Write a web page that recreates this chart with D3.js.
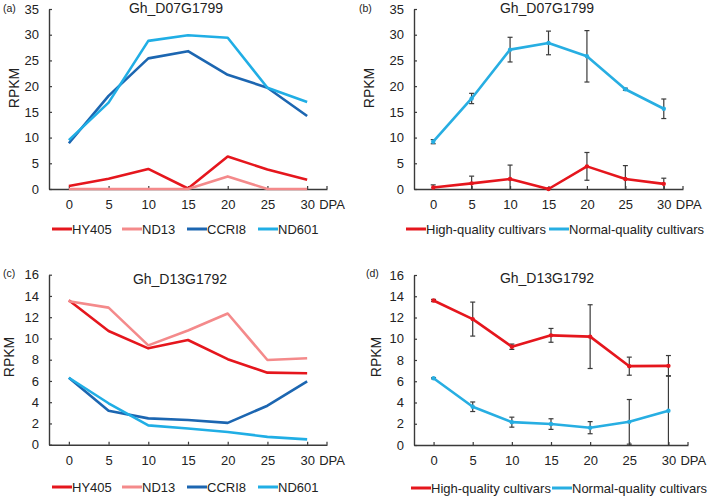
<!DOCTYPE html>
<html>
<head>
<meta charset="utf-8">
<script src="https://cdn.jsdelivr.net/npm/d3@7"></script>
<style>
html,body{margin:0;padding:0;background:#fff;}
svg{display:block;font-family:"Liberation Sans",Arial,sans-serif;}
</style>
</head>
<body>
<svg id="c" width="709" height="496"></svg>
<script>
const dpa = ["0","5","10","15","20","25","30"];
const yTicksA = [0,5,10,15,20,25,30,35];
const yTicksC = [0,2,4,6,8,10,12,14,16];

// Panel (a) Gh_D07G1799 per cultivar
const a_HY405 = [0.6, 2.0, 3.9, 0.1, 6.3, 3.8, 1.8];
const a_ND13  = [0.0, 0.0, 0.0, 0.0, 2.45, 0.0, 0.0];
const a_CCRI8 = [8.9, 18.1, 25.4, 26.8, 22.2, 19.7, 14.2];
const a_ND601 = [9.5, 16.8, 28.8, 29.9, 29.4, 19.7, 16.9];

// Panel (b) Gh_D07G1799 group means and errors
const b_high = [0.3, 1.1, 1.95, 0.0, 4.4, 1.95, 1.0];
const b_highErr = [0.5, 1.4, 2.7, 0.0, 2.7, 2.6, 1.1];
const b_norm = [9.2, 17.6, 27.1, 28.4, 25.8, 19.4, 15.6];
const b_normErr = [0.4, 1.0, 2.4, 2.3, 5.0, 0.2, 1.9];

// Panel (c) Gh_D13G1792 per cultivar
const c_HY405 = [13.6, 10.7, 9.07, 9.85, 8.05, 6.78, 6.72];
const c_ND13  = [13.5, 12.9, 9.35, 10.75, 12.35, 7.97, 8.13];
const c_CCRI8 = [6.3, 3.2, 2.48, 2.33, 2.05, 3.67, 5.96];
const c_ND601 = [6.3, 3.9, 1.82, 1.52, 1.2, 0.74, 0.5];

// Panel (d) Gh_D13G1792 group means and errors
const d_high = [13.6, 11.85, 9.25, 10.32, 10.2, 7.42, 7.45];
const d_highErr = [0.1, 1.6, 0.25, 0.65, 3.0, 0.85, 0.97];
const d_norm = [6.28, 3.6, 2.15, 1.97, 1.63, 2.18, 3.22];
const d_normErr = [0.05, 0.45, 0.47, 0.5, 0.57, 2.1, 3.3];

const cultivarNames = ["HY405","ND13","CCRI8","ND601"];
const groupNames = ["High-quality cultivars","Normal-quality cultivars"];

const C = {red:"#e5161d", pink:"#f48a8b", dblue:"#1c66b1", lblue:"#20aee5", lblue2:"#27aee2", err:"#3a3a3a", axis:"#3a3a3a", text:"#222"};

const svg = d3.select("#c");

function panel(opt){
  const g = svg.append("g");
  const x = d3.scalePoint().domain(dpa).range([opt.x0, opt.x1]).padding(0.5);
  const y = d3.scaleLinear().domain([0, opt.ymax]).range([opt.y0, opt.y1]);

  const ya = g.append("g").attr("transform",`translate(${opt.x0},0)`)
    .call(d3.axisLeft(y).tickValues(opt.yticks).tickSizeInner(-3).tickSizeOuter(0).tickPadding(10));
  const xa = g.append("g").attr("transform",`translate(0,${opt.y0})`)
    .call(d3.axisBottom(x).tickSizeInner(-3).tickSizeOuter(0).tickPadding(11));
  [ya,xa].forEach(s=>{
    s.select(".domain").attr("stroke",C.axis).attr("stroke-width",1.4);
    s.selectAll(".tick line").attr("stroke",C.axis).attr("stroke-width",1.2);
    s.selectAll("text").attr("fill",C.text).style("font-size","13px").style("font-family","'Liberation Sans',Arial,sans-serif");
  });
  // end tick on x axis
  g.append("line").attr("x1",opt.x1).attr("x2",opt.x1).attr("y1",opt.y0).attr("y2",opt.y0-3)
    .attr("stroke",C.axis).attr("stroke-width",1.2);
  g.append("text").attr("x",x("30")+12).attr("y",opt.y0+11).attr("dy","0.71em")
    .attr("fill",C.text).style("font-size","13px").text("DPA");

  g.append("text").attr("x",(opt.titleX)).attr("y",opt.titleY).attr("text-anchor","middle")
    .attr("fill",C.text).style("font-size","14px").text(opt.title);
  g.append("text").attr("x",opt.labX).attr("y",opt.labY)
    .attr("fill",C.text).style("font-size","10.5px").text(opt.label);
  g.append("text").attr("transform",`translate(${opt.rpkmX},${opt.rpkmY}) rotate(-90)`)
    .attr("text-anchor","middle").attr("fill",C.text).style("font-size","14px").text("RPKM");

  const line = d3.line().x((d,i)=>x(dpa[i])).y(d=>y(d));

  opt.series.forEach(s=>{
    if(s.err){
      const eg = g.append("g");
      s.values.forEach((v,i)=>{
        const e = s.err[i];
        if(e<=0) return;
        const lo = Math.max(0, v-e), hi = v+e;
        const cx = x(dpa[i]);
        eg.append("line").attr("x1",cx).attr("x2",cx).attr("y1",y(lo)).attr("y2",y(hi)).attr("stroke",C.err).attr("stroke-width",1.2);
        eg.append("line").attr("x1",cx-2.5).attr("x2",cx+2.5).attr("y1",y(hi)).attr("y2",y(hi)).attr("stroke",C.err).attr("stroke-width",1.2);
        if(v-e>0) eg.append("line").attr("x1",cx-2.5).attr("x2",cx+2.5).attr("y1",y(lo)).attr("y2",y(lo)).attr("stroke",C.err).attr("stroke-width",1.2);
      });
    }
  });
  opt.series.forEach(s=>{
    g.append("path").datum(s.values).attr("d",line).attr("fill","none")
      .attr("stroke",s.color).attr("stroke-width",2.6).attr("stroke-linejoin","round");
    if(s.err){
      g.append("g").selectAll("circle").data(s.values).join("circle")
        .attr("cx",(d,i)=>x(dpa[i])).attr("cy",d=>y(d)).attr("r",2.2).attr("fill",s.color);
    }
  });

  // legend
  opt.legend.forEach(l=>{
    g.append("line").attr("x1",l.x).attr("x2",l.x+20).attr("y1",opt.legY).attr("y2",opt.legY)
      .attr("stroke",l.color).attr("stroke-width",3);
    g.append("text").attr("x",l.x+20).attr("y",opt.legY).attr("dy","0.36em")
      .attr("fill",C.text).style("font-size","13px").text(l.name);
  });
}

panel({x0:49,x1:327,y0:189,y1:9,ymax:35,yticks:yTicksA,title:"Gh_D07G1799",titleX:176,titleY:12.5,label:"(a)",labX:3,labY:12,rpkmX:19,rpkmY:88,
  series:[{values:a_HY405,color:C.red},{values:a_ND13,color:C.pink},{values:a_CCRI8,color:C.dblue},{values:a_ND601,color:C.lblue}],
  legY:229,legend:[{x:52,name:cultivarNames[0],color:C.red},{x:122,name:cultivarNames[1],color:C.pink},{x:187,name:cultivarNames[2],color:C.dblue},{x:258,name:cultivarNames[3],color:C.lblue}]});

panel({x0:414,x1:683,y0:189,y1:9,ymax:35,yticks:yTicksA,title:"Gh_D07G1799",titleX:547,titleY:12.5,label:"(b)",labX:359,labY:12,rpkmX:374,rpkmY:88,
  series:[{values:b_norm,err:b_normErr,color:C.lblue2},{values:b_high,err:b_highErr,color:C.red}],
  legY:229,legend:[{x:406,name:groupNames[0],color:C.red},{x:549,name:groupNames[1],color:C.lblue2}]});

panel({x0:49,x1:327,y0:444.7,y1:274.7,ymax:16,yticks:yTicksC,title:"Gh_D13G1792",titleX:180,titleY:284,label:"(c)",labX:3,labY:277,rpkmX:14,rpkmY:357,
  series:[{values:c_HY405,color:C.red},{values:c_ND13,color:C.pink},{values:c_CCRI8,color:C.dblue},{values:c_ND601,color:C.lblue}],
  legY:487,legend:[{x:52,name:cultivarNames[0],color:C.red},{x:122,name:cultivarNames[1],color:C.pink},{x:187,name:cultivarNames[2],color:C.dblue},{x:258,name:cultivarNames[3],color:C.lblue}]});

panel({x0:414,x1:688,y0:445,y1:275,ymax:16,yticks:yTicksC,title:"Gh_D13G1792",titleX:547,titleY:283,label:"(d)",labX:366,labY:277,rpkmX:381,rpkmY:357,
  series:[{values:d_norm,err:d_normErr,color:C.lblue2},{values:d_high,err:d_highErr,color:C.red}],
  legY:488,legend:[{x:411,name:groupNames[0],color:C.red},{x:552,name:groupNames[1],color:C.lblue2}]});
</script>
</body>
</html>
